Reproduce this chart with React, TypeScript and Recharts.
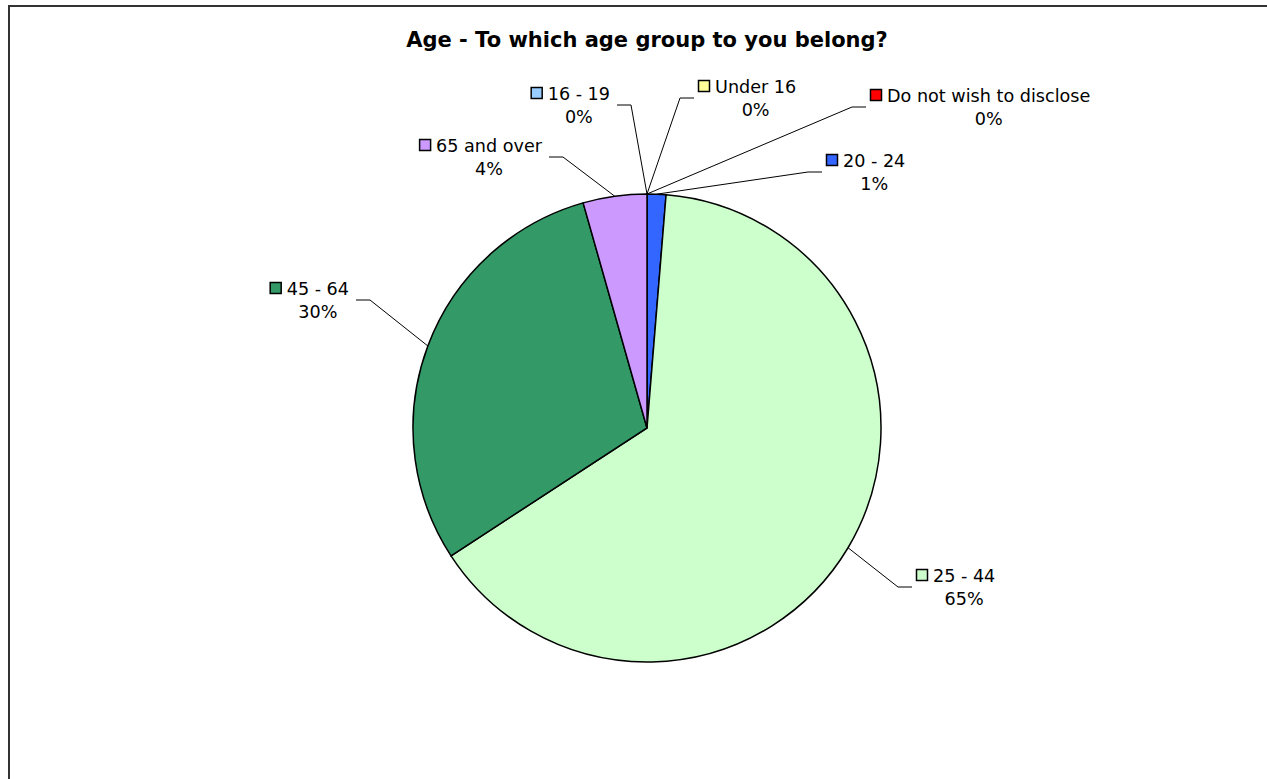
import { PieChart, Pie, Cell } from "recharts";

const AGE_GROUPS = [
  "Under 16",
  "16 - 19",
  "20 - 24",
  "25 - 44",
  "45 - 64",
  "65 and over",
  "Do not wish to disclose",
];
const SHARES = [0, 0, 1.3, 64.5, 29.8, 4.4, 0];
const SLICE_COLORS = ["#FFFF99", "#99CCFF", "#3366FF", "#CCFFCC", "#339966", "#CC99FF", "#FF0000"];

// where each callout bends, relative to the pie centre (Excel places these by hand)
const CALLOUTS: Record<string, { dx: number; dy: number; side: 1 | -1 }> = {
  "Under 16": { dx: 33, dy: -330, side: 1 },
  "16 - 19": { dx: -16, dy: -323, side: -1 },
  "20 - 24": { dx: 161, dy: -256, side: 1 },
  "25 - 44": { dx: 251, dy: 159, side: 1 },
  "45 - 64": { dx: -277, dy: -128, side: -1 },
  "65 and over": { dx: -84, dy: -271, side: -1 },
  "Do not wish to disclose": { dx: 205, dy: -321, side: 1 },
};

const FONT = '"DejaVu Sans", Verdana, sans-serif';
const LABEL_SIZE = 17.6;
const RADIAN = Math.PI / 180;

const data = AGE_GROUPS.map((name, i) => ({ name, value: SHARES[i], color: SLICE_COLORS[i] }));

let ctx: CanvasRenderingContext2D | null = null;
function textWidth(s: string) {
  if (!ctx) ctx = document.createElement("canvas").getContext("2d");
  if (!ctx) return s.length * LABEL_SIZE * 0.6;
  ctx.font = `${LABEL_SIZE}px ${FONT}`;
  return ctx.measureText(s).width;
}

function Callout(props: any) {
  const { cx, cy, midAngle, outerRadius, name, percent, index } = props;
  const c = CALLOUTS[name];
  if (!c) return null;
  const sx = cx + outerRadius * Math.cos(-midAngle * RADIAN);
  const sy = cy + outerRadius * Math.sin(-midAngle * RADIAN);
  const ex = cx + c.dx;
  const ey = cy + c.dy;
  const tx = ex + 14 * c.side;
  const tw = textWidth(name);
  const blockW = 12 + 5 + tw;
  const left = c.side === 1 ? tx + 4 : tx - 7 - blockW;
  const textX = left + 17;
  return (
    <g key={`callout-${index}`}>
      <polyline points={`${sx},${sy} ${ex},${ey} ${tx},${ey}`} fill="none" stroke="#000" strokeWidth={1} />
      <rect x={left + 0.5} y={ey - 17.5} width={11} height={11} fill={SLICE_COLORS[index]} stroke="#000" strokeWidth={1.5} />
      <text x={textX} y={ey - 11} dominantBaseline="central" fontSize={LABEL_SIZE} fontFamily={FONT} fill="#000">
        {name}
      </text>
      <text
        x={textX + tw / 2}
        y={ey + 12}
        textAnchor="middle"
        dominantBaseline="central"
        fontSize={LABEL_SIZE}
        fontFamily={FONT}
        fill="#000"
      >
        {Math.round(percent * 100)}%
      </text>
    </g>
  );
}

export default function App() {
  return (
    <div style={{ position: "absolute", left: 0, top: 0, width: 1267, height: 779, background: "#fff" }}>
      <div
        style={{
          position: "absolute",
          left: 8,
          top: 5,
          width: 1259,
          height: 774,
          borderTop: "2px solid #333",
          borderLeft: "2px solid #333",
          boxSizing: "border-box",
        }}
      />
      <div
        style={{
          position: "absolute",
          left: 147,
          top: 28,
          width: 1000,
          textAlign: "center",
          fontFamily: FONT,
          fontWeight: "bold",
          fontSize: 21,
          lineHeight: "24px",
          color: "#000",
        }}
      >
        Age - To which age group to you belong?
      </div>
      <div style={{ position: "absolute", left: 0, top: 0 }}>
        <PieChart width={1267} height={779} margin={{ top: 0, right: 0, bottom: 0, left: 0 }}>
          <Pie
            data={data}
            dataKey="value"
            nameKey="name"
            cx={647}
            cy={428}
            outerRadius={234}
            startAngle={90}
            endAngle={-270}
            stroke="#000"
            strokeWidth={1.5}
            label={Callout}
            labelLine={false}
            isAnimationActive={false}
          >
            {data.map((d) => (
              <Cell key={d.name} fill={d.color} />
            ))}
          </Pie>
        </PieChart>
      </div>
    </div>
  );
}
